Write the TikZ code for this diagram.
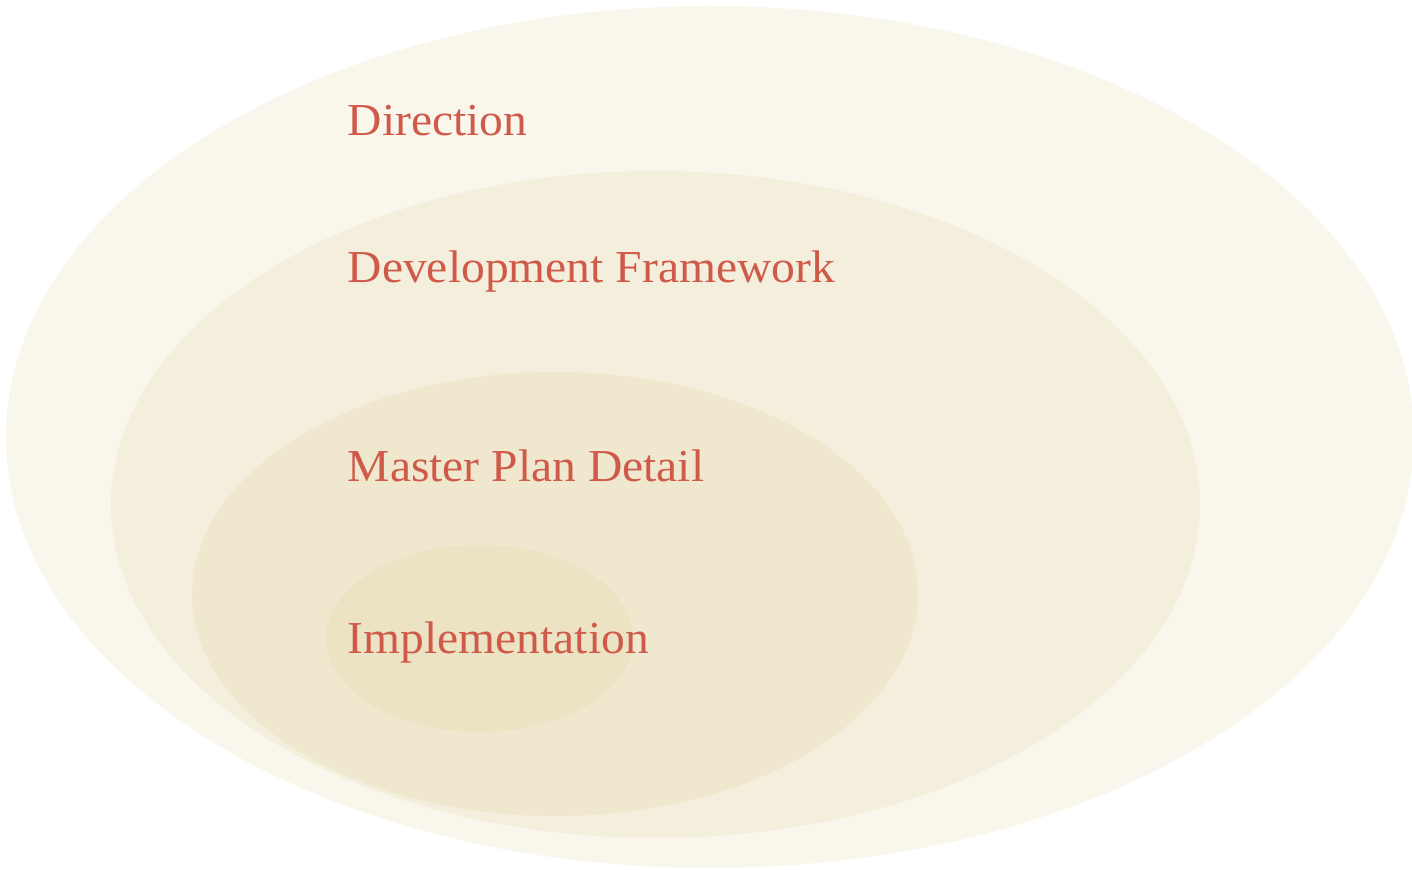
\documentclass[tikz,border=0pt]{standalone}
\usepackage{fontspec}
\setmainfont{Liberation Serif}

\definecolor{ringone}{HTML}{F9F7EC}
\definecolor{ringtwo}{HTML}{F4EFDC}
\definecolor{ringthree}{HTML}{EFE8CE}
\definecolor{ringfour}{HTML}{EBE3C3}
\definecolor{labelred}{HTML}{D05A4A}

\begin{document}
\begin{tikzpicture}[x=0.01cm,y=0.01cm,
    ringlabel/.style={anchor=base west, inner sep=0, text=labelred, xscale=1.04, font=\fontsize{13}{15}\selectfont}]
    \useasboundingbox (0,0) rectangle (1412,869);

    \fill[ringone] (710,432) ellipse [x radius=704, y radius=431];
    \fill[ringtwo] (655.5,364.5) ellipse [x radius=544.5, y radius=333.5];
    \fill[ringthree] (555,275) ellipse [x radius=363, y radius=222];
    \fill[ringfour] (479.5,230.5) ellipse [x radius=153.5, y radius=93.5];

    \node[ringlabel] (direction) at (347,733) {Direction};
    \node[ringlabel] (framework) at (347,587) {Development Framework};
    \node[ringlabel] (masterplan) at (347,388) {Master Plan Detail};
    \node[ringlabel] (implementation) at (347,216) {Implementation};
\end{tikzpicture}
\end{document}
